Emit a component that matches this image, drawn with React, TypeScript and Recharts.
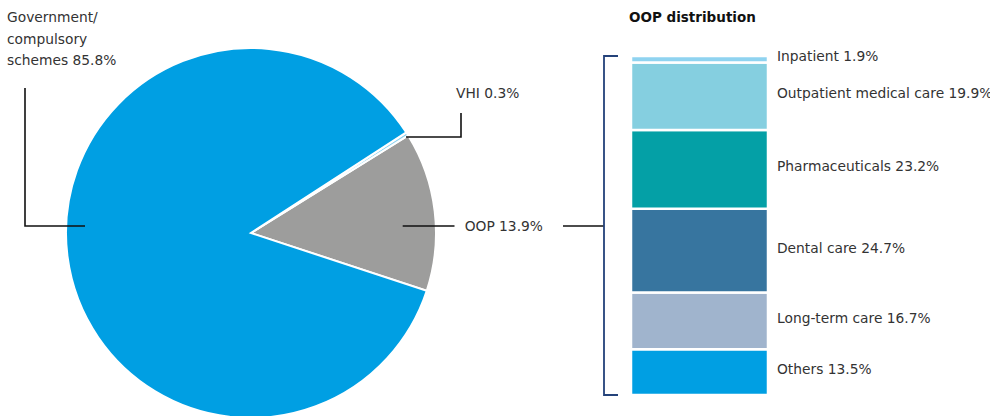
import React from 'react';
import { PieChart, Pie, Cell, BarChart, Bar, XAxis, YAxis, LabelList } from 'recharts';

const schemeNames = ['OOP', 'VHI', 'Government/compulsory schemes'];
const schemeShares = [13.9, 0.3, 85.8];
const schemeColors = ['#9d9d9c', '#8fd3f0', '#009fe3'];

const oopNames = ['Others', 'Long-term care', 'Dental care', 'Pharmaceuticals', 'Outpatient medical care', 'Inpatient'];
const oopShares = [13.5, 16.7, 24.7, 23.2, 19.9, 1.9];
const oopColors = ['#009fe3', '#a0b4cd', '#37759f', '#04a0a6', '#85cfe0', '#8fd3f0'];

const FONT = '"DejaVu Sans", sans-serif';
const TEXT = '#333';
const FS = 13.8;

const pieData = schemeNames.map((name, i) => ({ name, value: schemeShares[i] }));
const barRow: Record<string, number | string> = { cat: 'OOP' };
oopNames.forEach((n, i) => { barRow[n] = oopShares[i]; });
const barData = [barRow];

// bar plot area on the page
const BAR_LEFT = 631;
const BAR_TOP = 56;
const BAR_W = 137;
const BAR_H = 339;

const PieLabel = (props: any) => {
  const { cx, cy, outerRadius, name, value } = props;
  const R = outerRadius;
  const line = { stroke: '#111', strokeWidth: 1.6, fill: 'none' };
  const txt = { fontFamily: FONT, fontSize: FS, fill: TEXT };
  if (name === 'OOP') {
    const y = cy - 7;
    return (
      <g>
        <line x1={cx + R * 0.82} y1={y} x2={cx + R * 1.1} y2={y} {...line} />
        <text x={cx + R * 1.155} y={y + 5} {...txt}>{`OOP ${value}%`}</text>
      </g>
    );
  }
  if (name === 'VHI') {
    const y = cy - 96;
    const x0 = cx + 155;
    return (
      <g>
        <polyline points={`${x0},${y} ${x0 + 55},${y} ${x0 + 55},${y - 24}`} {...line} />
        <text x={x0 + 50} y={y - 39} {...txt}>{`VHI ${value}%`}</text>
      </g>
    );
  }
  const y = cy - 7;
  const xl = cx - 226;
  return (
    <g>
      <polyline points={`${cx - 166},${y} ${xl},${y} ${xl},${y - 138}`} {...line} />
      <text x={7} y={22} {...txt}>
        <tspan x={7} dy={0}>Government/</tspan>
        <tspan x={7} dy={21.5}>compulsory</tspan>
        <tspan x={7} dy={21.5}>{`schemes ${value}%`}</tspan>
      </text>
    </g>
  );
};

const SegLabel = (props: any) => {
  const { x, y, width, height, value, name } = props;
  return (
    <text x={x + width + 9} y={y + height / 2 + 2} fontFamily={FONT} fontSize={FS} fill={TEXT}>
      {`${name} ${value}%`}
    </text>
  );
};

export default function App() {
  return (
    <div style={{ position: 'absolute', left: 0, top: 0, width: 990, height: 416, background: '#fff', overflow: 'hidden' }}>
      <div style={{ position: 'absolute', left: 0, top: 0 }}>
        <PieChart width={560} height={416} margin={{ top: 0, right: 0, bottom: 0, left: 0 }}>
          <Pie
            data={pieData}
            dataKey="value"
            nameKey="name"
            cx={251}
            cy={233}
            outerRadius={185}
            startAngle={-18.2}
            endAngle={341.8}
            stroke="#fff"
            strokeWidth={2}
            label={PieLabel}
            labelLine={false}
            isAnimationActive={false}
          >
            {pieData.map((d, i) => <Cell key={d.name} fill={schemeColors[i]} />)}
          </Pie>
        </PieChart>
      </div>
      <div style={{ position: 'absolute', left: BAR_LEFT - 11, top: BAR_TOP - 16 }}>
        <BarChart
          width={370}
          height={BAR_H + 16 + 21}
          data={barData}
          margin={{ top: 16, right: 222, bottom: 21, left: 11 }}
          barCategoryGap={0}
          style={{ overflow: 'visible' }}
        >
          <XAxis dataKey="cat" hide />
          <YAxis hide domain={[0, 'dataMax']} />
          {oopNames.map((n, i) => (
            <Bar key={n} dataKey={n} stackId="a" fill={oopColors[i]} stroke="#fff" strokeWidth={2.5} isAnimationActive={false}>
              <LabelList dataKey={n} content={(p: any) => <SegLabel {...p} name={n} />} />
            </Bar>
          ))}
        </BarChart>
      </div>
      <svg width={990} height={416} style={{ position: 'absolute', left: 0, top: 0, pointerEvents: 'none' }}>
        <text x={629} y={22} fontFamily={FONT} fontSize={13.5} fontWeight="bold" fill="#111">OOP distribution</text>
        <line x1={563} y1={226} x2={604} y2={226} stroke="#111" strokeWidth={1.6} />
        <polyline
          points={`${BAR_LEFT - 13},${BAR_TOP} ${BAR_LEFT - 27},${BAR_TOP} ${BAR_LEFT - 27},${BAR_TOP + BAR_H} ${BAR_LEFT - 13},${BAR_TOP + BAR_H}`}
          fill="none"
          stroke="#24427a"
          strokeWidth={1.8}
        />
      </svg>
    </div>
  );
}
